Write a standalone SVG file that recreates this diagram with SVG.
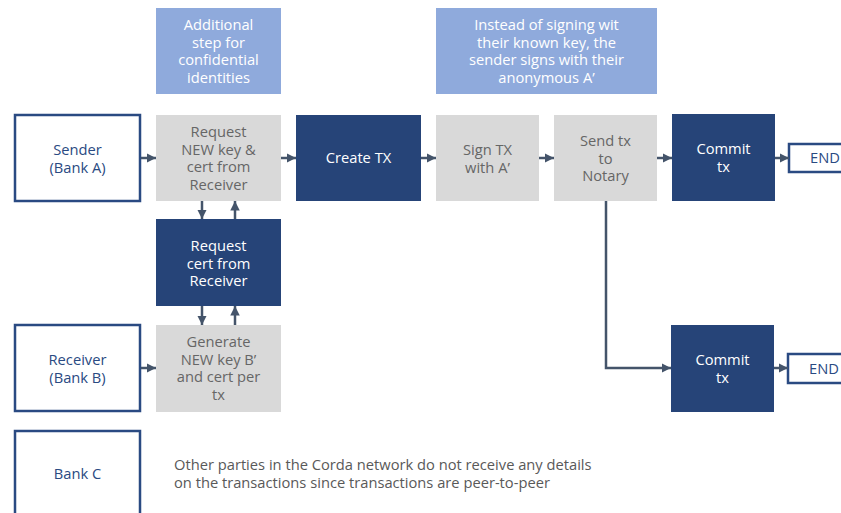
<svg xmlns="http://www.w3.org/2000/svg" width="841" height="513" viewBox="0 0 841 513">
<style>
text{font-family:"Open Sans","Noto Sans","Liberation Sans",sans-serif;font-size:14.7px;text-anchor:middle}
.party{fill:#fff;stroke:#2a4a82;stroke-width:2.5}
.ptxt{fill:#2a4a82}
.gray{fill:#d9d9d9}
.gtxt{fill:#666666}
.dark{fill:#264478}
.wtxt{fill:#ffffff}
.note{fill:#8faadc}
.conn{fill:none;stroke:#44546a;stroke-width:2.5}
.plain{fill:#595959;text-anchor:start}
</style>
<defs>
<marker id="ah" viewBox="0 0 10 10" refX="10" refY="5" markerWidth="3.8" markerHeight="3.8" orient="auto" markerUnits="strokeWidth">
<path d="M0,0 L10,5 L0,10 z" fill="#44546a"/>
</marker>
</defs>
<rect width="841" height="513" fill="#ffffff"/>

<g id="note1"><rect class="note" x="156" y="8" width="125" height="86"/>
<text class="wtxt" x="218.5" y="30">Additional</text><text class="wtxt" x="218.5" y="47.5">step for</text><text class="wtxt" x="218.5" y="65">confidential</text><text class="wtxt" x="218.5" y="82.5">identities</text></g>
<g id="note2"><rect class="note" x="436" y="8" width="221" height="86"/>
<text class="wtxt" x="546.5" y="30">Instead of signing wit</text><text class="wtxt" x="546.5" y="47.5">their known key, the</text><text class="wtxt" x="546.5" y="65">sender signs with their</text><text class="wtxt" x="546.5" y="82.5">anonymous A’</text></g>

<g id="sender"><rect class="party" x="15" y="115" width="125" height="86"/>
<text class="ptxt" x="77.5" y="155">Sender</text><text class="ptxt" x="77.5" y="172.5">(Bank A)</text></g>
<g id="request"><rect class="gray" x="156" y="115" width="125" height="86"/>
<text class="gtxt" x="218.5" y="137">Request</text><text class="gtxt" x="218.5" y="154.5">NEW key &amp;</text><text class="gtxt" x="218.5" y="172">cert from</text><text class="gtxt" x="218.5" y="189.5">Receiver</text></g>
<g id="create"><rect class="dark" x="296" y="115" width="125" height="86"/>
<text class="wtxt" x="358.5" y="163">Create TX</text></g>
<g id="sign"><rect class="gray" x="436" y="115" width="103" height="86"/>
<text class="gtxt" x="487.5" y="155">Sign TX</text><text class="gtxt" x="487.5" y="172.5">with A’</text></g>
<g id="send"><rect class="gray" x="554" y="115" width="103" height="86"/>
<text class="gtxt" x="605.5" y="146">Send tx</text><text class="gtxt" x="605.5" y="163.5">to</text><text class="gtxt" x="605.5" y="181">Notary</text></g>
<g id="commit1"><rect class="dark" x="672" y="114" width="103" height="87"/>
<text class="wtxt" x="723.5" y="154">Commit</text><text class="wtxt" x="723.5" y="171.5">tx</text></g>
<g id="end1"><rect class="party" x="789" y="144" width="60" height="28"/>
<text class="ptxt" x="825" y="163">END</text></g>

<g id="reqcert"><rect class="dark" x="156" y="219" width="125" height="87"/>
<text class="wtxt" x="218.5" y="251">Request</text><text class="wtxt" x="218.5" y="268.5">cert from</text><text class="wtxt" x="218.5" y="286">Receiver</text></g>

<g id="receiver"><rect class="party" x="15" y="325" width="125" height="86"/>
<text class="ptxt" x="77.5" y="365">Receiver</text><text class="ptxt" x="77.5" y="382.5">(Bank B)</text></g>
<g id="generate"><rect class="gray" x="156" y="325" width="125" height="87"/>
<text class="gtxt" x="218.5" y="347">Generate</text><text class="gtxt" x="218.5" y="364.5">NEW key B’</text><text class="gtxt" x="218.5" y="382">and cert per</text><text class="gtxt" x="218.5" y="399.5">tx</text></g>
<g id="commit2"><rect class="dark" x="671" y="325" width="103" height="87"/>
<text class="wtxt" x="722.5" y="365">Commit</text><text class="wtxt" x="722.5" y="382.5">tx</text></g>
<g id="end2"><rect class="party" x="788" y="354" width="60" height="29"/>
<text class="ptxt" x="824" y="374">END</text></g>

<g id="bankc"><rect class="party" x="15" y="431" width="125" height="90"/>
<text class="ptxt" x="77.5" y="479">Bank C</text></g>
<g id="caption"><text class="plain" x="174" y="470">Other parties in the Corda network do not receive any details</text>
<text class="plain" x="174" y="488">on the transactions since transactions are peer-to-peer</text></g>

<g id="connectors">
<line class="conn" x1="141" y1="158" x2="156" y2="158" marker-end="url(#ah)"/>
<line class="conn" x1="281" y1="158" x2="296" y2="158" marker-end="url(#ah)"/>
<line class="conn" x1="421" y1="158" x2="436" y2="158" marker-end="url(#ah)"/>
<line class="conn" x1="539" y1="158" x2="554" y2="158" marker-end="url(#ah)"/>
<line class="conn" x1="657" y1="158" x2="672" y2="158" marker-end="url(#ah)"/>
<line class="conn" x1="775" y1="158" x2="789" y2="158" marker-end="url(#ah)"/>
<line class="conn" x1="202" y1="201" x2="202" y2="219" marker-end="url(#ah)"/>
<line class="conn" x1="235" y1="219" x2="235" y2="201" marker-end="url(#ah)"/>
<line class="conn" x1="202" y1="306" x2="202" y2="325" marker-end="url(#ah)"/>
<line class="conn" x1="235" y1="325" x2="235" y2="306" marker-end="url(#ah)"/>
<line class="conn" x1="141" y1="368" x2="156" y2="368" marker-end="url(#ah)"/>
<polyline class="conn" points="606,201 606,368 671,368" marker-end="url(#ah)"/>
<line class="conn" x1="774" y1="368" x2="788" y2="368" marker-end="url(#ah)"/>
</g>
</svg>
